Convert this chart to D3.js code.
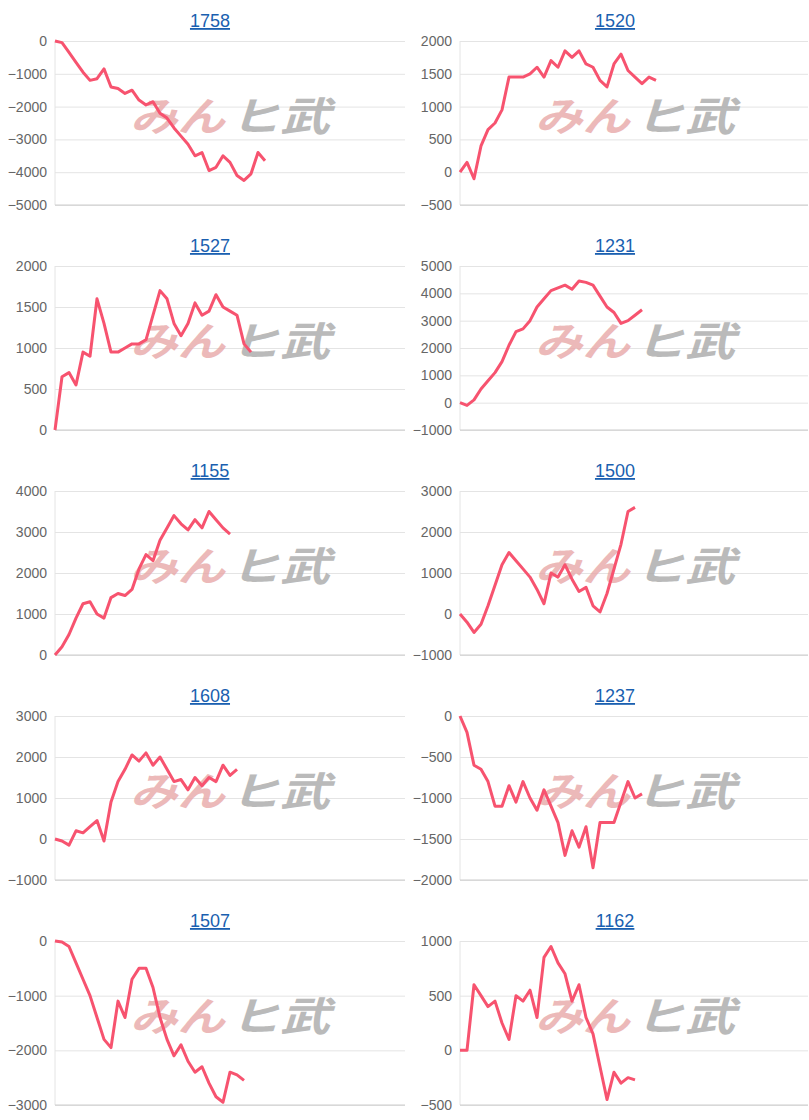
<!DOCTYPE html>
<html><head><meta charset="utf-8">
<script src="https://cdn.jsdelivr.net/npm/d3@7"></script>
<style>body{margin:0;background:#fff}</style></head>
<body><svg id="c" width="809" height="1120"></svg>
<script>
const titles=["1758","1520","1527","1231","1155","1500","1608","1237","1507","1162"];
const yDomains=[[-5000,0],[-500,2000],[0,2000],[-1000,5000],[0,4000],[-1000,3000],[-1000,3000],[-2000,0],[-3000,0],[-500,1000]];
const yTickSteps=[1000,500,500,1000,1000,1000,1000,500,1000,500];
const s1758=[0,-50,-350,-650,-950,-1200,-1150,-850,-1400,-1450,-1600,-1500,-1800,-1950,-1850,-2200,-2350,-2650,-2900,-3150,-3500,-3400,-3950,-3850,-3500,-3700,-4100,-4250,-4050,-3400,-3650];
const s1520=[0,150,-100,400,650,750,950,1450,1450,1450,1500,1600,1450,1700,1600,1850,1750,1850,1650,1600,1400,1300,1650,1800,1550,1450,1350,1450,1400];
const s1527=[0,650,700,550,950,900,1600,1300,950,950,1000,1050,1050,1100,1400,1700,1600,1300,1150,1300,1550,1400,1450,1650,1500,1450,1400,1050,950];
const s1231=[0,-100,100,500,800,1100,1500,2100,2600,2700,3000,3500,3800,4100,4200,4300,4150,4450,4400,4300,3900,3500,3300,2900,3000,3200,3400];
const s1155=[0,200,500,900,1250,1300,1000,900,1400,1500,1450,1600,2100,2450,2300,2800,3100,3400,3200,3050,3300,3100,3500,3300,3100,2950];
const s1500=[0,-200,-450,-250,200,700,1200,1500,1300,1100,900,600,250,1000,900,1200,850,550,650,200,50,500,1100,1700,2500,2600];
const s1608=[0,-50,-150,200,150,300,450,-50,900,1400,1700,2050,1900,2100,1800,2000,1700,1400,1450,1200,1500,1300,1500,1400,1800,1550,1700];
const s1237=[0,-200,-600,-650,-800,-1100,-1100,-850,-1050,-800,-1000,-1150,-900,-1100,-1300,-1700,-1400,-1600,-1350,-1850,-1300,-1300,-1300,-1050,-800,-1000,-950];
const s1507=[0,-20,-100,-400,-700,-1000,-1400,-1800,-1950,-1100,-1400,-700,-500,-500,-850,-1400,-1800,-2100,-1900,-2200,-2400,-2300,-2600,-2850,-2950,-2400,-2450,-2550];
const s1162=[0,0,600,500,400,450,250,100,500,450,550,300,850,950,800,700,450,600,300,150,-150,-450,-200,-300,-250,-270];
const series=[s1758,s1520,s1527,s1231,s1155,s1500,s1608,s1237,s1507,s1162];
const maxSlots=50;

const svg=d3.select("#c");
const font="'Liberation Sans',Arial,sans-serif";
series.forEach((data,k)=>{
  const col=k%2,row=Math.floor(k/2);
  const x0=col?460:55,x1=col?808:405;
  const top=41+225*row,bot=top+164;
  const g=svg.append("g");
  const x=d3.scaleLinear().domain([0,maxSlots]).range([x0,x0+350]);
  const y=d3.scaleLinear().domain(yDomains[k]).range([bot,top]);
  const st=yTickSteps[k];
  const ticks=d3.range(yDomains[k][0],yDomains[k][1]+1,st);
  const ax=g.append("g").attr("transform",`translate(${x0},0)`)
    .call(d3.axisLeft(y).tickValues(ticks).tickSize(-(x1-x0)).tickPadding(8).tickFormat(d3.format("d")));
  ax.select(".domain").remove();
  ax.selectAll("line").attr("stroke","#e4e4e4");
  ax.selectAll("text").attr("fill","#666").style("font-size","14px").style("font-family",font);
  g.append("line").attr("x1",x0).attr("x2",x0).attr("y1",top).attr("y2",bot).attr("stroke","#e4e4e4");
  g.append("line").attr("x1",x0).attr("x2",x1).attr("y1",bot).attr("y2",bot).attr("stroke","#ccc");
  const wx=x0+75,wy=top+90;
  g.append("text").attr("x",wx).attr("y",wy).text("みん").attr("fill","#e8a8a8").attr("opacity",0.8)
    .attr("textLength",95).attr("lengthAdjust","spacingAndGlyphs")
    .style("font-size","40px").style("font-weight","bold").style("font-style","italic").style("font-family","'Noto Sans CJK JP'");
  g.append("text").attr("x",wx+100).attr("y",wy).text("ヒ武").attr("fill","#aaa").attr("opacity",0.8)
    .attr("textLength",100).attr("lengthAdjust","spacingAndGlyphs")
    .style("font-size","40px").style("font-weight","bold").style("font-style","italic").style("font-family","'Noto Sans CJK JP'");
  g.append("path").datum(data).attr("fill","none").attr("stroke","#f7536f").attr("stroke-width",3).attr("stroke-linejoin","round")
    .attr("d",d3.line().x((d,i)=>x(i)).y(d=>y(d)));
  g.append("text").attr("x",col?615:210).attr("y",top-14).attr("text-anchor","middle").text(titles[k])
    .attr("fill","#1a5fb0").style("font-size","18px").style("font-family",font).style("text-decoration","underline");
});
</script></body></html>
